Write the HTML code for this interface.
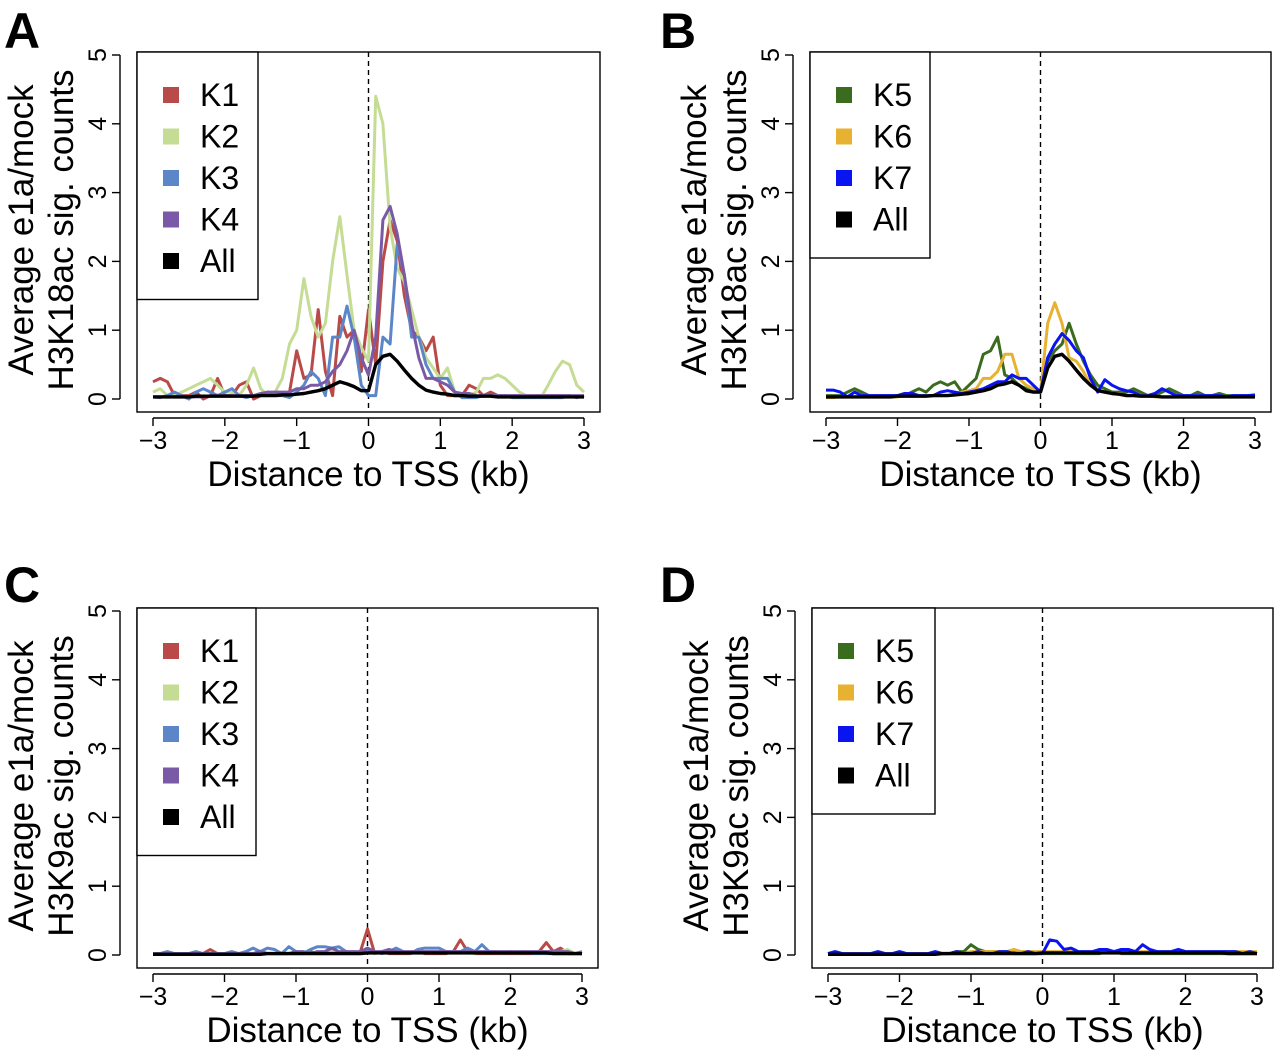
<!DOCTYPE html>
<html><head><meta charset="utf-8"><style>
body{margin:0;background:#fff}
svg{display:block;font-family:"Liberation Sans",Arial,sans-serif}
</style></head><body>
<svg id="fig" width="1280" height="1052" viewBox="0 0 1280 1052" xmlns="http://www.w3.org/2000/svg"></svg>
<script>
const xTicks=[-3,-2,-1,0,1,2,3];
const yTicks=[0,1,2,3,4,5];
const K1A=[0.25,0.3,0.25,0.05,0.05,0.05,0.1,0.0,0.05,0.3,0.05,0.05,0.2,0.25,0.0,0.05,0.1,0.05,0.05,0.1,0.7,0.3,0.35,1.3,0.4,0.05,1.2,0.9,1.0,0.4,1.3,0.5,2.0,2.6,2.3,1.5,1.0,0.9,0.7,0.9,0.2,0.05,0.05,0.05,0.2,0.15,0.05,0.1,0.05,0.05,0.05,0.05,0.05,0.05,0.05,0.05,0.05,0.05,0.05,0.02,0.05];
const K2A=[0.1,0.15,0.05,0.05,0.1,0.15,0.2,0.25,0.3,0.2,0.1,0.1,0.05,0.2,0.45,0.15,0.05,0.1,0.3,0.8,1.0,1.75,1.2,0.9,1.1,2.0,2.65,1.8,1.0,0.75,0.55,4.4,4.0,2.5,1.9,1.7,1.3,0.9,0.6,0.45,0.3,0.45,0.1,0.05,0.05,0.1,0.3,0.3,0.35,0.3,0.2,0.1,0.05,0.05,0.02,0.2,0.4,0.55,0.5,0.2,0.1];
const K3A=[0.03,0.02,0.05,0.1,0.05,0.0,0.1,0.15,0.1,0.05,0.1,0.15,0.05,0.02,0.05,0.05,0.05,0.08,0.05,0.02,0.1,0.2,0.4,0.3,0.05,0.9,0.9,1.35,0.9,0.2,0.05,0.05,0.9,0.8,2.25,1.8,0.9,0.9,0.5,0.3,0.3,0.3,0.1,0.02,0.02,0.02,0.05,0.05,0.05,0.05,0.02,0.02,0.02,0.02,0.02,0.02,0.02,0.02,0.05,0.02,0.05];
const K4A=[0.03,0.03,0.03,0.03,0.05,0.03,0.03,0.03,0.05,0.05,0.05,0.05,0.05,0.05,0.05,0.08,0.1,0.1,0.1,0.1,0.15,0.15,0.2,0.2,0.25,0.4,0.5,0.7,1.0,0.6,0.35,0.9,2.6,2.8,2.4,1.8,1.1,0.6,0.3,0.3,0.25,0.2,0.1,0.08,0.08,0.05,0.05,0.05,0.05,0.05,0.05,0.05,0.05,0.05,0.05,0.05,0.05,0.05,0.05,0.05,0.05];
const AllA=[0.03,0.03,0.03,0.03,0.03,0.03,0.04,0.04,0.04,0.04,0.04,0.04,0.04,0.04,0.04,0.05,0.05,0.05,0.06,0.06,0.07,0.08,0.1,0.12,0.15,0.2,0.25,0.22,0.18,0.12,0.12,0.5,0.62,0.65,0.55,0.42,0.3,0.2,0.13,0.1,0.08,0.07,0.05,0.05,0.04,0.04,0.04,0.04,0.03,0.03,0.03,0.03,0.03,0.03,0.03,0.03,0.03,0.03,0.03,0.03,0.03];
const K5B=[0.05,0.05,0.05,0.1,0.15,0.1,0.05,0.05,0.05,0.05,0.05,0.05,0.1,0.15,0.1,0.2,0.25,0.2,0.25,0.1,0.2,0.3,0.65,0.7,0.9,0.35,0.3,0.2,0.15,0.1,0.1,0.55,0.7,0.8,1.1,0.8,0.55,0.35,0.2,0.15,0.1,0.1,0.1,0.15,0.1,0.05,0.05,0.1,0.15,0.1,0.05,0.05,0.1,0.05,0.05,0.08,0.05,0.05,0.05,0.05,0.05];
const K6B=[0.02,0.02,0.03,0.03,0.03,0.03,0.03,0.03,0.03,0.03,0.03,0.05,0.05,0.05,0.05,0.05,0.05,0.05,0.08,0.1,0.12,0.15,0.3,0.3,0.4,0.65,0.65,0.3,0.2,0.15,0.1,1.1,1.4,1.1,0.6,0.55,0.4,0.2,0.15,0.1,0.08,0.08,0.05,0.05,0.05,0.05,0.03,0.03,0.03,0.03,0.03,0.03,0.03,0.03,0.03,0.03,0.03,0.03,0.03,0.03,0.03];
const K7B=[0.13,0.13,0.1,0.03,0.1,0.05,0.05,0.05,0.05,0.05,0.05,0.08,0.08,0.05,0.05,0.05,0.1,0.12,0.1,0.08,0.1,0.12,0.15,0.2,0.25,0.25,0.35,0.3,0.3,0.2,0.1,0.6,0.8,0.95,0.85,0.7,0.6,0.3,0.1,0.28,0.2,0.15,0.12,0.1,0.05,0.05,0.08,0.15,0.1,0.05,0.05,0.05,0.05,0.05,0.05,0.05,0.03,0.05,0.05,0.05,0.06];
const AllB=[0.03,0.03,0.03,0.03,0.03,0.03,0.03,0.03,0.03,0.03,0.04,0.04,0.04,0.04,0.04,0.05,0.05,0.05,0.06,0.07,0.08,0.1,0.12,0.15,0.2,0.22,0.25,0.2,0.12,0.1,0.1,0.45,0.62,0.65,0.55,0.42,0.3,0.2,0.12,0.1,0.08,0.07,0.05,0.05,0.04,0.04,0.04,0.03,0.03,0.03,0.03,0.03,0.03,0.03,0.03,0.03,0.03,0.03,0.03,0.03,0.03];
const K1C=[0.02,0.02,0.02,0.02,0.02,0.02,0.02,0.02,0.08,0.02,0.02,0.02,0.02,0.02,0.02,0.05,0.02,0.02,0.02,0.02,0.02,0.02,0.05,0.02,0.02,0.02,0.02,0.05,0.02,0.05,0.38,0.02,0.05,0.02,0.02,0.02,0.02,0.05,0.02,0.02,0.02,0.02,0.05,0.22,0.05,0.02,0.02,0.02,0.02,0.02,0.02,0.02,0.02,0.02,0.05,0.18,0.05,0.1,0.02,0.02,0.02];
const K2C=[0.02,0.02,0.02,0.02,0.02,0.02,0.02,0.02,0.02,0.02,0.02,0.02,0.02,0.02,0.02,0.02,0.02,0.02,0.02,0.02,0.02,0.02,0.02,0.02,0.02,0.05,0.02,0.02,0.02,0.02,0.05,0.02,0.05,0.05,0.05,0.05,0.05,0.05,0.05,0.05,0.05,0.05,0.05,0.05,0.05,0.02,0.05,0.05,0.05,0.05,0.05,0.05,0.05,0.05,0.05,0.05,0.05,0.05,0.08,0.02,0.02];
const K3C=[0.02,0.02,0.05,0.02,0.02,0.02,0.05,0.02,0.02,0.02,0.02,0.05,0.02,0.05,0.1,0.05,0.1,0.08,0.02,0.12,0.05,0.02,0.08,0.12,0.12,0.1,0.12,0.05,0.02,0.05,0.08,0.05,0.02,0.05,0.1,0.05,0.02,0.08,0.1,0.1,0.1,0.05,0.05,0.05,0.1,0.05,0.15,0.05,0.05,0.02,0.05,0.02,0.05,0.02,0.02,0.02,0.02,0.02,0.02,0.02,0.05];
const K4C=[0.02,0.02,0.02,0.02,0.02,0.02,0.02,0.02,0.02,0.02,0.02,0.02,0.02,0.02,0.02,0.05,0.02,0.02,0.02,0.02,0.05,0.05,0.02,0.05,0.05,0.1,0.05,0.05,0.05,0.05,0.1,0.05,0.05,0.08,0.05,0.05,0.05,0.05,0.05,0.05,0.05,0.05,0.05,0.05,0.05,0.05,0.05,0.05,0.05,0.05,0.05,0.05,0.05,0.05,0.05,0.05,0.05,0.05,0.05,0.02,0.02];
const AllC=[0.01,0.01,0.01,0.01,0.01,0.01,0.01,0.01,0.01,0.01,0.01,0.01,0.01,0.01,0.01,0.01,0.02,0.02,0.02,0.02,0.02,0.02,0.02,0.02,0.02,0.02,0.02,0.02,0.02,0.02,0.03,0.03,0.03,0.03,0.03,0.03,0.03,0.03,0.03,0.03,0.03,0.03,0.03,0.03,0.03,0.03,0.03,0.03,0.03,0.03,0.03,0.03,0.03,0.03,0.03,0.03,0.02,0.02,0.02,0.02,0.02];
const K5D=[0.02,0.02,0.02,0.02,0.02,0.02,0.02,0.02,0.02,0.02,0.02,0.02,0.02,0.02,0.02,0.02,0.02,0.02,0.05,0.05,0.15,0.08,0.05,0.05,0.05,0.02,0.05,0.02,0.02,0.02,0.02,0.02,0.02,0.02,0.02,0.02,0.02,0.02,0.02,0.05,0.05,0.02,0.02,0.02,0.02,0.02,0.02,0.02,0.02,0.02,0.02,0.02,0.02,0.02,0.02,0.02,0.02,0.02,0.02,0.02,0.02];
const K6D=[0.02,0.02,0.02,0.02,0.02,0.02,0.02,0.02,0.02,0.02,0.02,0.02,0.02,0.02,0.02,0.02,0.02,0.02,0.02,0.02,0.05,0.05,0.05,0.05,0.05,0.05,0.08,0.05,0.05,0.05,0.05,0.05,0.05,0.05,0.05,0.05,0.05,0.05,0.05,0.05,0.05,0.05,0.05,0.05,0.05,0.05,0.05,0.05,0.05,0.05,0.05,0.05,0.05,0.05,0.05,0.05,0.05,0.05,0.05,0.05,0.05];
const K7D=[0.02,0.05,0.02,0.02,0.02,0.02,0.02,0.05,0.02,0.02,0.05,0.02,0.02,0.02,0.02,0.05,0.02,0.02,0.05,0.02,0.02,0.05,0.02,0.02,0.05,0.05,0.02,0.02,0.05,0.02,0.02,0.22,0.2,0.08,0.1,0.05,0.05,0.05,0.08,0.08,0.05,0.08,0.08,0.05,0.15,0.08,0.05,0.05,0.05,0.08,0.05,0.05,0.05,0.05,0.05,0.05,0.05,0.05,0.02,0.05,0.02];
const AllD=AllC;

const NS="http://www.w3.org/2000/svg";
const svg=document.getElementById('fig');
function el(tag,attrs,parent){const e=document.createElementNS(NS,tag);for(const k in attrs)e.setAttribute(k,attrs[k]);(parent||svg).appendChild(e);return e;}

function panel(p){
  const g=el('g',{});
  
  
  const sx=v=>p.x0+(v+3)/6*(p.x1-p.x0);
  const sy=v=>p.y0-v/5*(p.y0-p.y5);
  const yb=p.y0+19, xl=p.x0-33;
  const box=el('rect',{x:xl+17,y:p.y5-3,width:(p.x1-p.x0)+32,height:(p.y0-p.y5)+16,fill:'none',stroke:'#000','stroke-width':1.4},g);
  
  
  const L=el('text',{x:p.lx,y:p.ly,'font-size':50,'font-weight':'bold'},g);L.textContent=p.letter;
  
  
  const xa=el('g',{},g);
  
  
  el('line',{x1:sx(-3),x2:sx(3),y1:yb,y2:yb,stroke:'#000','stroke-width':1.4},xa);
  xTicks.forEach(t=>{
    el('line',{x1:sx(t),x2:sx(t),y1:yb,y2:yb+8,stroke:'#000','stroke-width':1.4},xa);
    const tx=el('text',{x:sx(t),y:yb+31,'font-size':25,'text-anchor':'middle'},xa);
    tx.textContent=t<0?'\u2212'+(-t):String(t);
    
    
  });
  const xt=el('text',{x:(sx(-3)+sx(3))/2,y:yb+68,'font-size':35,'text-anchor':'middle'},g);
  xt.textContent='Distance to TSS (kb)';
  
  
  const ya=el('g',{},g);
  
  
  el('line',{x1:xl,x2:xl,y1:sy(0),y2:sy(5),stroke:'#000','stroke-width':1.4},ya);
  yTicks.forEach(t=>{
    el('line',{x1:xl,x2:xl-8,y1:sy(t),y2:sy(t),stroke:'#000','stroke-width':1.4},ya);
    const tx=el('text',{x:0,y:0,'font-size':25,'text-anchor':'middle',transform:`translate(${xl-14},${sy(t)}) rotate(-90)`},ya);
    tx.textContent=String(t);
    
    
  });
  const ymid=(sy(0)+sy(5))/2+3;
  const t1=el('text',{x:0,y:0,'font-size':35,'text-anchor':'middle',transform:`translate(${xl-87},${ymid}) rotate(-90)`},g);
  t1.textContent='Average e1a/mock';
  
  
  const t2=el('text',{x:0,y:0,'font-size':35,'text-anchor':'middle',transform:`translate(${xl-47},${ymid}) rotate(-90)`},g);
  t2.textContent=p.ylab;
  
  
  const tl=el('line',{x1:sx(0),x2:sx(0),y1:p.y5-3,y2:p.y0+13,stroke:'#000','stroke-width':1.4,'stroke-dasharray':'5,4'},g);
  
  
  p.series.forEach(s=>{
    const pts=s.data.map((v,i)=>sx(-3+i*0.1).toFixed(1)+','+sy(v).toFixed(1)).join(' ');
    const pl=el('polyline',{points:pts,fill:'none',stroke:s.color,'stroke-width':s.w||3,'stroke-linejoin':'round'},g);
    
    
  });
  const lg=el('g',{},g);
  
  
  const n=p.series.length;
  el('rect',{x:xl+17,y:p.y5-3,width:p.lw,height:n*41.5+40,fill:'#fff',stroke:'#000','stroke-width':1.4},lg);
  p.series.forEach((s,i)=>{
    const cy=p.y5+40+i*41.5;
    const ent=el('g',{},lg);
    
    
    el('rect',{x:xl+43,y:cy-8,width:16,height:16,fill:s.color},ent);
    const tx=el('text',{x:xl+80,y:cy+11,'font-size':32},ent);
    tx.textContent=s.name;
  });
}
const cK1='#b94a48',cK2='#c5dc94',cK3='#5b87c9',cK4='#7a5aa6',cK5='#3a6b1f',cK6='#e7b232',cK7='#0a14f0';
panel({letter:'A',lx:4,ly:48,x0:153,x1:584,y0:399,y5:55,lw:121,ylab:'H3K18ac sig. counts',
  series:[{name:'K1',color:cK1,data:K1A},{name:'K2',color:cK2,data:K2A},{name:'K3',color:cK3,data:K3A},{name:'K4',color:cK4,data:K4A},{name:'All',color:'#000',data:AllA,w:3.4}]});
panel({letter:'B',lx:660,ly:48,x0:826,x1:1255,y0:399,y5:55,lw:120,ylab:'H3K18ac sig. counts',
  series:[{name:'K5',color:cK5,data:K5B},{name:'K6',color:cK6,data:K6B},{name:'K7',color:cK7,data:K7B},{name:'All',color:'#000',data:AllB,w:3.4}]});
panel({letter:'C',lx:4,ly:602,x0:153,x1:582,y0:955,y5:611,lw:119,ylab:'H3K9ac sig. counts',
  series:[{name:'K1',color:cK1,data:K1C},{name:'K2',color:cK2,data:K2C},{name:'K3',color:cK3,data:K3C},{name:'K4',color:cK4,data:K4C},{name:'All',color:'#000',data:AllC,w:3.4}]});
panel({letter:'D',lx:660,ly:602,x0:828,x1:1257,y0:955,y5:611,lw:123,ylab:'H3K9ac sig. counts',
  series:[{name:'K5',color:cK5,data:K5D},{name:'K6',color:cK6,data:K6D},{name:'K7',color:cK7,data:K7D},{name:'All',color:'#000',data:AllD,w:3.4}]});
</script>
</body></html>
